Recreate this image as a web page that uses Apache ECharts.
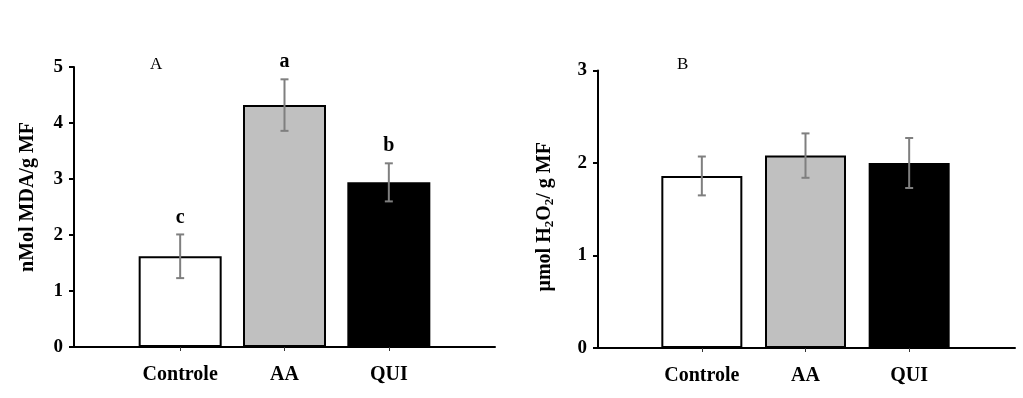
<!DOCTYPE html>
<html>
<head>
<meta charset="utf-8">
<script src="https://cdn.jsdelivr.net/npm/echarts@6/dist/echarts.min.js"></script>
<style>
  html, body { margin: 0; padding: 0; background: #ffffff; }
  #chart { width: 1023px; height: 398px; }
</style>
</head>
<body>
<div id="chart"></div>
<script>
// Treatments shared by both panels
const categories = ['Controle', 'AA', 'QUI'];
const barColors = ['#ffffff', '#c0c0c0', '#000000'];

// Panel A: lipid peroxidation (MDA)
const mdaMeans = [1.62, 4.32, 2.94];
const mdaErrors = [0.39, 0.46, 0.34];
const mdaLetters = ['c', 'a', 'b'];
const mdaAxis = { min: 0, max: 5, interval: 1 };

// Panel B: hydrogen peroxide content
const h2o2Means = [1.86, 2.08, 2.00];
const h2o2Errors = [0.21, 0.24, 0.27];
const h2o2Letters = ['', '', ''];
const h2o2Axis = { min: 0, max: 3, interval: 1 };

const SERIF = '"Liberation Serif", "Times New Roman", serif';

const chart = echarts.init(document.getElementById('chart'), null, { renderer: 'canvas' });

function frameX(gridIndex) {
  return {
    gridIndex, type: 'value', min: 0, max: 1,
    axisLine: { show: true, lineStyle: { color: '#000', width: 2 } },
    axisTick: { show: false }, axisLabel: { show: false }, splitLine: { show: false }
  };
}
function catX(gridIndex) {
  return {
    gridIndex, type: 'category', data: categories, boundaryGap: true,
    axisLine: { show: false },
    axisTick: { show: true, alignWithLabel: true, length: 4, lineStyle: { color: '#333', width: 1 } },
    axisLabel: { margin: 18, color: '#000', fontFamily: SERIF, fontWeight: 'bold', fontSize: 20 },
    splitLine: { show: false }
  };
}
function valueY(gridIndex, range, name, nameGap, namePadding) {
  return {
    gridIndex, type: 'value', min: range.min, max: range.max, interval: range.interval,
    axisLine: { show: true, lineStyle: { color: '#000', width: 2 } },
    axisTick: { show: true, length: 5, lineStyle: { color: '#000', width: 2 } },
    axisLabel: { margin: 11, color: '#000', fontFamily: SERIF, fontWeight: 'bold', fontSize: 19 },
    splitLine: { show: false },
    name, nameLocation: 'middle', nameGap,
    nameTextStyle: {
      color: '#000', fontFamily: SERIF, fontWeight: 'bold', fontSize: 20, padding: namePadding,
      rich: {
        sub: { fontFamily: SERIF, fontWeight: 'bold', fontSize: 13, verticalAlign: 'bottom', lineHeight: 22 }
      }
    }
  };
}
function hiddenY(gridIndex, range) {
  return { gridIndex, type: 'value', min: range.min, max: range.max, interval: range.interval, show: false };
}

function barSeries(axisIndex, means, barWidth) {
  return {
    type: 'bar', xAxisIndex: axisIndex, yAxisIndex: axisIndex, barWidth,
    itemStyle: { borderColor: '#000', borderWidth: 2 },
    data: means.map((v, i) => ({ value: v, itemStyle: { color: barColors[i] } })),
    z: 2
  };
}

function errorSeries(axisIndex, means, errors, letters) {
  return {
    type: 'custom', xAxisIndex: axisIndex, yAxisIndex: axisIndex, z: 5,
    data: means.map((m, i) => [i, m, errors[i]]),
    renderItem(params, api) {
      const x = api.value(0), m = api.value(1), e = api.value(2);
      const top = api.coord([x, m + e]);
      const bot = api.coord([x, m - e]);
      const cap = 4;
      const style = { stroke: '#7f7f7f', lineWidth: 2 };
      const children = [
        { type: 'line', shape: { x1: top[0], y1: top[1], x2: bot[0], y2: bot[1] }, style },
        { type: 'line', shape: { x1: top[0] - cap, y1: top[1], x2: top[0] + cap, y2: top[1] }, style },
        { type: 'line', shape: { x1: bot[0] - cap, y1: bot[1], x2: bot[0] + cap, y2: bot[1] }, style }
      ];
      const letter = letters[params.dataIndex];
      if (letter) {
        children.push({
          type: 'text',
          style: {
            x: top[0], y: top[1] - 17, text: letter, align: 'center', verticalAlign: 'middle',
            fill: '#000', font: 'bold 20px ' + SERIF
          }
        });
      }
      return { type: 'group', children };
    }
  };
}

chart.setOption({
  backgroundColor: '#ffffff',
  animation: false,
  title: [
    { text: 'A', left: 145, top: 51, textStyle: { fontFamily: SERIF, fontWeight: 'normal', fontSize: 17, color: '#000' } },
    { text: 'B', left: 672, top: 51, textStyle: { fontFamily: SERIF, fontWeight: 'normal', fontSize: 17, color: '#000' } }
  ],
  grid: [
    { left: 74, top: 67, width: 421, height: 280 },
    { left: 128, top: 67, width: 313, height: 280 },
    { left: 598, top: 70.5, width: 417, height: 277.5 },
    { left: 650, top: 70.5, width: 311, height: 277.5 }
  ],
  xAxis: [frameX(0), catX(1), frameX(2), catX(3)],
  yAxis: [
    valueY(0, mdaAxis, 'nMol MDA/g MF', 36, [0, 0, 0, 20]),
    hiddenY(1, mdaAxis),
    valueY(2, h2o2Axis, 'μmol H{sub|2}O{sub|2}/ g MF', 42, [0, 15, 0, 0]),
    hiddenY(3, h2o2Axis)
  ],
  series: [
    barSeries(1, mdaMeans, 83),
    errorSeries(1, mdaMeans, mdaErrors, mdaLetters),
    barSeries(3, h2o2Means, 81),
    errorSeries(3, h2o2Means, h2o2Errors, h2o2Letters)
  ]
});
</script>
</body>
</html>
